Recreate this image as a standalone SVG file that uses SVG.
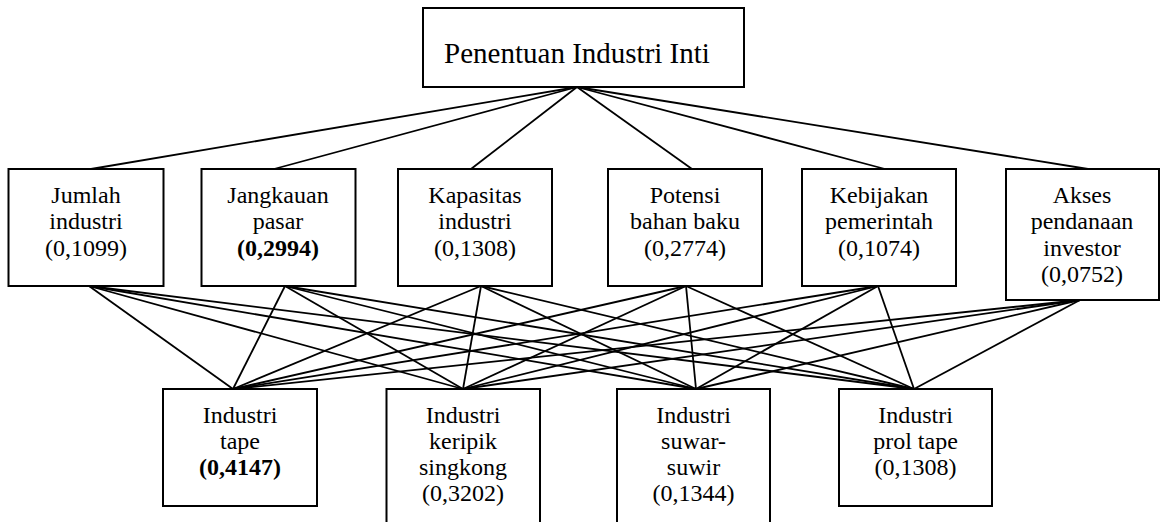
<svg xmlns="http://www.w3.org/2000/svg" width="1161" height="522" viewBox="0 0 1161 522">
<style>
.box{fill:#ffffff;stroke:#000000;stroke-width:2}
.t{font-family:"Liberation Serif","Times New Roman",serif;font-size:24px;fill:#000000;text-anchor:middle}
.title{font-size:29px}
.b{font-weight:bold}
#connectors line{stroke:#000000;stroke-width:1.8}
</style>
<rect width="1161" height="522" fill="#ffffff"/>
<g id="connectors">
<line x1="577" y1="87" x2="91" y2="169"/>
<line x1="577" y1="87" x2="274" y2="169"/>
<line x1="577" y1="87" x2="471" y2="169"/>
<line x1="577" y1="87" x2="692" y2="169"/>
<line x1="577" y1="87" x2="885" y2="169"/>
<line x1="577" y1="87" x2="1088" y2="169"/>
<line x1="89" y1="286" x2="233" y2="389"/>
<line x1="89" y1="286" x2="463" y2="389"/>
<line x1="89" y1="286" x2="696" y2="389"/>
<line x1="89" y1="286" x2="914" y2="389"/>
<line x1="285" y1="286" x2="233" y2="389"/>
<line x1="285" y1="286" x2="463" y2="389"/>
<line x1="285" y1="286" x2="696" y2="389"/>
<line x1="285" y1="286" x2="914" y2="389"/>
<line x1="481" y1="286" x2="233" y2="389"/>
<line x1="481" y1="286" x2="463" y2="389"/>
<line x1="481" y1="286" x2="696" y2="389"/>
<line x1="481" y1="286" x2="914" y2="389"/>
<line x1="686" y1="286" x2="233" y2="389"/>
<line x1="686" y1="286" x2="463" y2="389"/>
<line x1="686" y1="286" x2="696" y2="389"/>
<line x1="686" y1="286" x2="914" y2="389"/>
<line x1="878" y1="286" x2="233" y2="389"/>
<line x1="878" y1="286" x2="463" y2="389"/>
<line x1="878" y1="286" x2="696" y2="389"/>
<line x1="878" y1="286" x2="914" y2="389"/>
<line x1="1080" y1="300" x2="233" y2="389"/>
<line x1="1080" y1="300" x2="463" y2="389"/>
<line x1="1080" y1="300" x2="696" y2="389"/>
<line x1="1080" y1="300" x2="914" y2="389"/>
</g>
<g id="goal">
<rect class="box" x="423" y="8" width="321" height="79"/>
<text class="t title" x="577" y="63">Penentuan Industri Inti</text>
</g>
<g id="c1">
<rect class="box" x="8.5" y="169" width="155" height="117"/>
<text class="t" x="86" y="203">Jumlah</text>
<text class="t" x="86" y="229">industri</text>
<text class="t" x="86" y="256">(0,1099)</text>
</g>
<g id="c2">
<rect class="box" x="201.5" y="169" width="154" height="117"/>
<text class="t" x="278" y="203">Jangkauan</text>
<text class="t" x="278" y="229">pasar</text>
<text class="t b" x="278" y="256">(0,2994)</text>
</g>
<g id="c3">
<rect class="box" x="398" y="169" width="154" height="117"/>
<text class="t" x="475" y="203">Kapasitas</text>
<text class="t" x="475" y="229">industri</text>
<text class="t" x="475" y="256">(0,1308)</text>
</g>
<g id="c4">
<rect class="box" x="608" y="169" width="154" height="117"/>
<text class="t" x="685" y="203">Potensi</text>
<text class="t" x="685" y="229">bahan baku</text>
<text class="t" x="685" y="256">(0,2774)</text>
</g>
<g id="c5">
<rect class="box" x="802" y="169" width="154" height="117"/>
<text class="t" x="879" y="203">Kebijakan</text>
<text class="t" x="879" y="229">pemerintah</text>
<text class="t" x="879" y="256">(0,1074)</text>
</g>
<g id="c6">
<rect class="box" x="1006" y="169" width="153" height="131"/>
<text class="t" x="1082" y="203">Akses</text>
<text class="t" x="1082" y="229">pendanaan</text>
<text class="t" x="1082" y="256">investor</text>
<text class="t" x="1082" y="282">(0,0752)</text>
</g>
<g id="a1">
<rect class="box" x="163" y="389" width="154" height="117"/>
<text class="t" x="240" y="423">Industri</text>
<text class="t" x="240" y="449">tape</text>
<text class="t b" x="240" y="475">(0,4147)</text>
</g>
<g id="a2">
<rect class="box" x="386.5" y="389" width="153.5" height="140"/>
<text class="t" x="463" y="423">Industri</text>
<text class="t" x="463" y="449">keripik</text>
<text class="t" x="463" y="475">singkong</text>
<text class="t" x="463" y="501">(0,3202)</text>
</g>
<g id="a3">
<rect class="box" x="617" y="389" width="153" height="140"/>
<text class="t" x="693.5" y="423">Industri</text>
<text class="t" x="693.5" y="449">suwar-</text>
<text class="t" x="693.5" y="475">suwir</text>
<text class="t" x="693.5" y="501">(0,1344)</text>
</g>
<g id="a4">
<rect class="box" x="839" y="389" width="153" height="117"/>
<text class="t" x="915.5" y="423">Industri</text>
<text class="t" x="915.5" y="449">prol tape</text>
<text class="t" x="915.5" y="475">(0,1308)</text>
</g>
</svg>
